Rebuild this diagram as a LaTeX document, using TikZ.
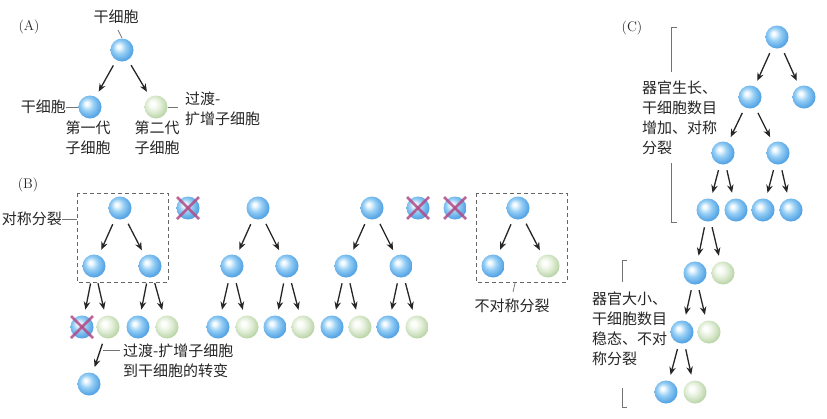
\documentclass[tikz,border=0pt]{standalone}
\usepackage{fontspec}
\newfontfamily\cjk{Noto Sans CJK SC}
\usetikzlibrary{arrows.meta}
\definecolor{cbA}{HTML}{F2F9FF}
\definecolor{cbB}{HTML}{95CEF4}
\definecolor{cbC}{HTML}{58A6E6}
\definecolor{cbD}{HTML}{3A86D0}
\definecolor{cgA}{HTML}{FBFDF8}
\definecolor{cgB}{HTML}{E0EDD6}
\definecolor{cgC}{HTML}{BCD6AA}
\definecolor{cgD}{HTML}{9CBD88}
\definecolor{xmag}{HTML}{B24A86}
\pgfdeclareradialshading{bluecell}{\pgfqpoint{-8bp}{8bp}}{color(0bp)=(white); color(4bp)=(cbA); color(14bp)=(cbB); color(26bp)=(cbC); color(38bp)=(cbD); color(50bp)=(cbD)}
\pgfdeclareradialshading{greencell}{\pgfqpoint{-8bp}{8bp}}{color(0bp)=(white); color(6bp)=(cgA); color(16bp)=(cgB); color(27bp)=(cgC); color(38bp)=(cgD); color(50bp)=(cgD)}
\tikzset{
  bcell/.style={circle, minimum size=23pt, inner sep=0pt, shading=bluecell},
  gcell/.style={circle, minimum size=23pt, inner sep=0pt, shading=greencell},
  arr/.style={-{Stealth[length=8pt,width=6.5pt]}, line width=1.3pt, draw=black!85, shorten <=6pt, shorten >=6pt},
  lead/.style={draw=black!55, line width=0.7pt},
  lbl/.style={font=\cjk\fontsize{15}{20}\selectfont, inner sep=0pt, text=black!85},
  panel/.style={font=\fontsize{14}{16}\selectfont, inner sep=0pt, text=black!85},
  dbox/.style={draw=black!60, dash pattern=on 4pt off 3pt, line width=0.8pt},
  xmark/.style={draw=xmag, line width=2.6pt, opacity=0.85}
}
\newcommand\crossout[1]{\draw[xmark] ([shift={(-11,-11)}]#1.center) -- ([shift={(11,11)}]#1.center); \draw[xmark] ([shift={(-11,11)}]#1.center) -- ([shift={(11,-11)}]#1.center);}
\begin{document}
\begin{tikzpicture}[x=1pt,y=-1pt]
\useasboundingbox (0,0) rectangle (827,418);
\fill[white] (0,0) rectangle (827,418);

% ---------------- Panel A
\node[panel] (labA) at (29,27) {(A)};
\node[lbl] (tA) at (116,17) {干细胞};
\node[bcell] (A0) at (122,50) {};
\node[bcell] (A1) at (90,107) {};
\node[gcell] (A2) at (156,107) {};
\draw[arr] (A0) -- (A1);
\draw[arr] (A0) -- (A2);
\coordinate (tAs) at (118,30);
\coordinate (tAe) at (122,38);
\draw[lead] (tAs) -- (tAe);
\node[lbl, anchor=east] (tA1) at (66,107) {干细胞};
\draw[lead] (tA1.east) -- (A1.west);
\coordinate (tA2a) at (168,107);
\coordinate (tA2b) at (178,107);
\draw[lead] (tA2a) -- (tA2b);
\node[lbl, anchor=west, align=left] (tA2) at (185,109) {过渡-\\扩增子细胞};
\node[lbl, align=center] (tA3) at (88,138) {第一代\\子细胞};
\node[lbl, align=center] (tA4) at (157,138) {第二代\\子细胞};

% ---------------- Panel B
\node[panel] (labB) at (28,185) {(B)};
\draw[dbox] (77,193) rectangle (168,282);
\coordinate (box1w) at (77,219);
\node[lbl, anchor=east] (tB1) at (62,219) {对称分裂};
\draw[lead] (tB1.east) -- (box1w);

\node[bcell] (B0) at (120,208) {};
\node[bcell] (B1) at (94,266) {};
\node[bcell] (B2) at (150,266) {};
\node[bcell] (B3) at (82,327) {};
\node[gcell] (B4) at (108,327) {};
\node[bcell] (B5) at (138,327) {};
\node[gcell] (B6) at (167,327) {};
\node[bcell] (B7) at (89,384) {};
\node[bcell] (BX) at (188,208) {};
\crossout{BX}
\crossout{B3}
\draw[arr] (B0) -- (B1);
\draw[arr] (B0) -- (B2);
\draw[arr] (B1) -- (B3);
\draw[arr] (B1) -- (B4);
\draw[arr] (B2) -- (B5);
\draw[arr] (B2) -- (B6);
\draw[arr] (B4) -- (B7);
\coordinate (tB2a) at (103,350);
\coordinate (tB2b) at (120,350);
\draw[lead] (tB2a) -- (tB2b);
\node[lbl, anchor=west, align=left] (tB2) at (123,361) {过渡-扩增子细胞\\到干细胞的转变};

% tree 2
\node[bcell] (C0) at (258,208) {};
\node[bcell] (C1) at (232,266) {};
\node[bcell] (C2) at (287,266) {};
\node[bcell] (C3) at (218,327) {};
\node[gcell] (C4) at (247,327) {};
\node[bcell] (C5) at (275,327) {};
\node[gcell] (C6) at (303,327) {};
\draw[arr] (C0) -- (C1);
\draw[arr] (C0) -- (C2);
\draw[arr] (C1) -- (C3);
\draw[arr] (C1) -- (C4);
\draw[arr] (C2) -- (C5);
\draw[arr] (C2) -- (C6);

% tree 3
\node[bcell] (D0) at (372,208) {};
\node[bcell] (D1) at (346,266) {};
\node[bcell] (D2) at (401,266) {};
\node[bcell] (D3) at (332,327) {};
\node[gcell] (D4) at (360,327) {};
\node[bcell] (D5) at (388,327) {};
\node[gcell] (D6) at (417,327) {};
\draw[arr] (D0) -- (D1);
\draw[arr] (D0) -- (D2);
\draw[arr] (D1) -- (D3);
\draw[arr] (D1) -- (D4);
\draw[arr] (D2) -- (D5);
\draw[arr] (D2) -- (D6);

\node[bcell] (DX1) at (418,208) {};
\node[bcell] (DX2) at (455,208) {};
\crossout{DX1}
\crossout{DX2}

% asymmetric box
\draw[dbox] (476,193) rectangle (567,282);
\node[bcell] (E0) at (518,208) {};
\node[bcell] (E1) at (493,266) {};
\node[gcell] (E2) at (548,266) {};
\draw[arr] (E0) -- (E1);
\draw[arr] (E0) -- (E2);
\coordinate (box2s) at (515,283);
\coordinate (box2e) at (513,292);
\draw[lead] (box2s) -- (box2e);
\node[lbl] (tE) at (512,306) {不对称分裂};

% ---------------- Panel C
\node[panel] (labC) at (632,28) {(C)};
\draw[lead] (677,27) -- (671,27) -- (671,72);
\draw[lead] (671,163) -- (671,222) -- (677,222);
\node[lbl, anchor=west, align=left] (tC1) at (642,118) {器官生长、\\干细胞数目\\增加、对称\\分裂};
\draw[lead] (627,260) -- (622,260) -- (622,282);
\draw[lead] (622,388) -- (622,407) -- (627,407);
\node[lbl, anchor=west, align=left] (tC2) at (592,329) {器官大小、\\干细胞数目\\稳态、不对\\称分裂};

\node[bcell] (F0) at (777,37) {};
\node[bcell] (F1) at (750,97) {};
\node[bcell] (F2) at (804,97) {};
\node[bcell] (F3) at (723,153) {};
\node[bcell] (F4) at (778,153) {};
\node[bcell] (F5) at (708,210) {};
\node[bcell] (F6) at (736,210) {};
\node[bcell] (F7) at (763,210) {};
\node[bcell] (F8) at (791,210) {};
\draw[arr] (F0) -- (F1);
\draw[arr] (F0) -- (F2);
\draw[arr] (F1) -- (F3);
\draw[arr] (F1) -- (F4);
\draw[arr] (F3) -- (F5);
\draw[arr] (F3) -- (F6);
\draw[arr] (F4) -- (F7);
\draw[arr] (F4) -- (F8);

\node[bcell] (G1) at (695,273) {};
\node[gcell] (G2) at (723,273) {};
\node[bcell] (H1) at (682,332) {};
\node[gcell] (H2) at (709,332) {};
\node[bcell] (I1) at (666,392) {};
\node[gcell] (I2) at (695,392) {};
\draw[arr] (F5) -- (G1);
\draw[arr] (F5) -- (G2);
\draw[arr] (G1) -- (H1);
\draw[arr] (G1) -- (H2);
\draw[arr] (H1) -- (I1);
\draw[arr] (H1) -- (I2);
\end{tikzpicture}
\end{document}
